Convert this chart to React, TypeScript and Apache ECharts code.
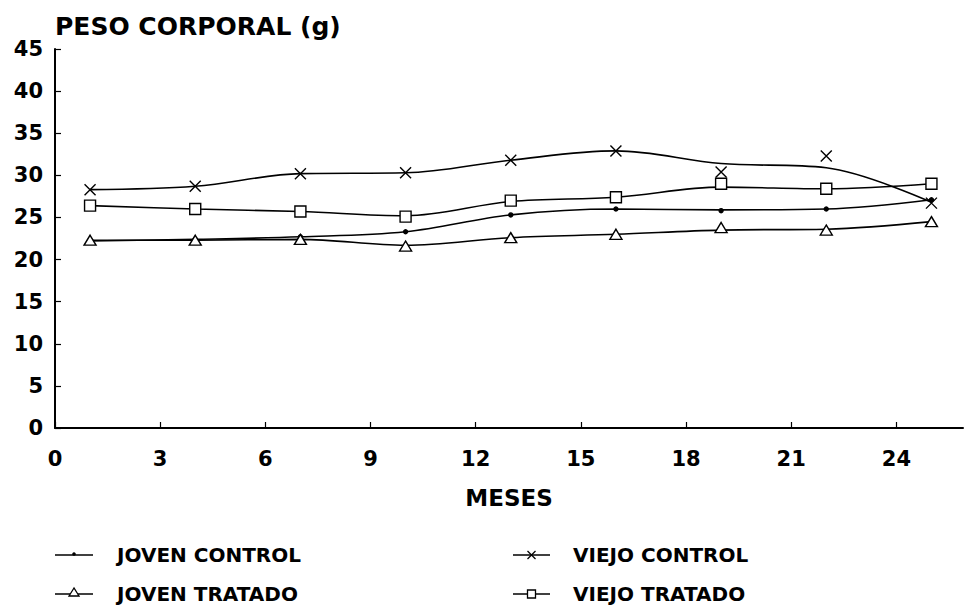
import React, { useEffect, useRef } from "react";
import * as echarts from "echarts";

const months = [1, 4, 7, 10, 13, 16, 19, 22, 25];
const xTicks = [0, 3, 6, 9, 12, 15, 18, 21, 24];
const yTicks = [0, 5, 10, 15, 20, 25, 30, 35, 40, 45];

// observed points (markers)
const jovenControl = [22.2, 22.4, 22.7, 23.3, 25.3, 26.0, 25.8, 26.0, 27.1];
const jovenTratado = [22.3, 22.3, 22.4, 21.6, 22.6, 23.0, 23.8, 23.5, 24.5];
const viejoControl = [28.3, 28.7, 30.2, 30.3, 31.8, 32.9, 30.4, 32.3, 26.7];
const viejoTratado = [26.4, 26.0, 25.7, 25.1, 27.0, 27.4, 29.0, 28.4, 29.0];

// fitted curve heights
const jovenControlCurve = [22.2, 22.4, 22.7, 23.3, 25.3, 26.0, 25.9, 26.0, 27.1];
const jovenTratadoCurve = [22.3, 22.3, 22.4, 21.7, 22.6, 23.0, 23.5, 23.6, 24.5];
const viejoControlCurve = [28.3, 28.7, 30.2, 30.3, 31.8, 32.9, 31.4, 30.9, 26.8];
const viejoTratadoCurve = [26.4, 26.0, 25.7, 25.2, 26.9, 27.4, 28.6, 28.4, 29.0];

const names = ["JOVEN CONTROL", "JOVEN TRATADO", "VIEJO CONTROL", "VIEJO TRATADO"];

const FONT = "'DejaVu Sans', 'Liberation Sans', Arial, sans-serif";
const CROSS = "path://M0,0L10,10M10,0L0,10";

function pairs(values: number[]) {
  return months.map((m, i) => [m, values[i]]);
}

export default function App() {
  const ref = useRef<HTMLDivElement>(null);
  useEffect(() => {
    if (!ref.current) return;
    const chart = echarts.init(ref.current, undefined, { renderer: "svg" });

    const lineSeries = (name: string, vals: number[]) => ({
      name,
      type: "line",
      data: pairs(vals),
      smooth: 0.35,
      showSymbol: false,
      symbol: "none",
      lineStyle: { color: "#000", width: 1.6 },
      z: 2,
    });
    const markSeries = (name: string, vals: number[], symbol: string, size: any, fill: string) => ({
      name: name + " ",
      type: "scatter",
      data: pairs(vals),
      symbol,
      symbolSize: size,
      itemStyle: { color: fill, borderColor: "#000", borderWidth: 1.4, opacity: 1 },
      z: 3,
    });

    const legendRows = [555, 594];
    const leftCol = { a: 55, b: 93, t: 117 };
    const rightCol = { a: 513, b: 550, t: 573 };
    const items: any[] = [];
    const addItem = (col: any, y: number, label: string, kind: string) => {
      items.push({ type: "line", shape: { x1: col.a, y1: y, x2: col.b, y2: y }, style: { stroke: "#000", lineWidth: 1.5 } });
      const cx = (col.a + col.b) / 2;
      if (kind === "dot") {
        items.push({ type: "circle", shape: { cx, cy: y - 1, r: 1.8 }, style: { fill: "#000" } });
      } else if (kind === "tri") {
        items.push({ type: "polygon", shape: { points: [[cx, y - 6], [cx - 5, y + 2], [cx + 5, y + 2]] }, style: { fill: "#fff", stroke: "#000", lineWidth: 1.3 } });
      } else if (kind === "cross") {
        items.push({ type: "line", shape: { x1: cx - 4, y1: y - 4, x2: cx + 4, y2: y + 4 }, style: { stroke: "#000", lineWidth: 1.2 } });
        items.push({ type: "line", shape: { x1: cx + 4, y1: y - 4, x2: cx - 4, y2: y + 4 }, style: { stroke: "#000", lineWidth: 1.2 } });
      } else if (kind === "sq") {
        items.push({ type: "rect", shape: { x: cx - 4, y: y - 4, width: 8, height: 8 }, style: { fill: "#fff", stroke: "#000", lineWidth: 1.3 } });
      }
      items.push({
        type: "text",
        x: col.t,
        y,
        style: { text: label, fill: "#000", font: `bold 20px ${FONT}`, textVerticalAlign: "middle", verticalAlign: "middle" },
      });
    };
    addItem(leftCol, legendRows[0], names[0], "dot");
    addItem(leftCol, legendRows[1], names[1], "tri");
    addItem(rightCol, legendRows[0], names[2], "cross");
    addItem(rightCol, legendRows[1], names[3], "sq");

    chart.setOption({
      animation: false,
      backgroundColor: "#fff",
      title: {
        text: "PESO CORPORAL (g)",
        left: 50,
        top: 9,
        textStyle: { fontFamily: FONT, fontSize: 25, fontWeight: "bold", color: "#000" },
      },
      grid: { left: 55, right: 2, top: 49, bottom: 184, containLabel: false },
      xAxis: {
        type: "value",
        min: 0,
        max: 25.9,
        interval: 3,
        name: "MESES",
        nameLocation: "middle",
        nameGap: 58,
        nameTextStyle: { fontFamily: FONT, fontSize: 23, fontWeight: "bold", color: "#000" },
        axisLine: { lineStyle: { color: "#000", width: 2 } },
        axisTick: { inside: true, length: 6, lineStyle: { color: "#000", width: 1.2 }, customValues: xTicks },
        axisLabel: { margin: 20, fontFamily: FONT, fontSize: 21, fontWeight: "bold", color: "#000", customValues: xTicks },
        splitLine: { show: false },
      },
      yAxis: {
        type: "value",
        min: 0,
        max: 45,
        interval: 5,
        axisLine: { show: true, lineStyle: { color: "#000", width: 2 } },
        axisTick: { show: true, inside: true, length: 6, lineStyle: { color: "#000", width: 1.2 }, customValues: yTicks },
        axisLabel: { margin: 12, fontFamily: FONT, fontSize: 21, fontWeight: "bold", color: "#000", customValues: yTicks },
        splitLine: { show: false },
      },
      graphic: items,
      series: [
        lineSeries(names[0], jovenControlCurve),
        lineSeries(names[1], jovenTratadoCurve),
        lineSeries(names[2], viejoControlCurve),
        lineSeries(names[3], viejoTratadoCurve),
        markSeries(names[0], jovenControl, "circle", 4, "#000"),
        markSeries(names[1], jovenTratado, "triangle", [12, 10], "#fff"),
        markSeries(names[2], viejoControl, CROSS, 11, "none"),
        markSeries(names[3], viejoTratado, "rect", 11, "#fff"),
      ],
    });
    return () => chart.dispose();
  }, []);
  return <div ref={ref} style={{ position: "fixed", left: 0, top: 0, width: 965, height: 612, background: "#fff" }} />;
}
